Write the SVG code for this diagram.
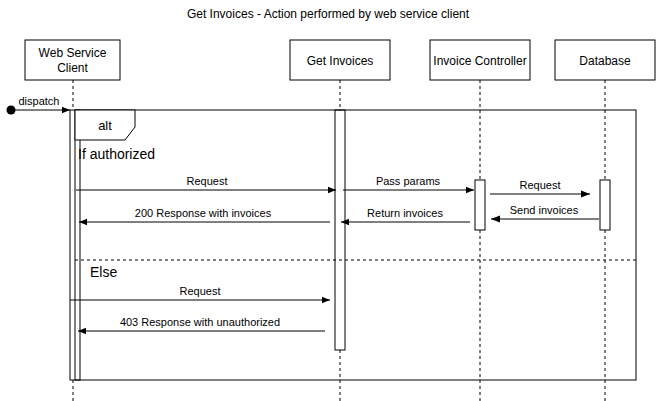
<svg xmlns="http://www.w3.org/2000/svg" width="656" height="401" viewBox="0 0 656 401">
<defs>
<style>
text{font-family:"Liberation Sans",Arial,Helvetica,sans-serif;fill:#000}
.box{fill:#fff;stroke:#000;stroke-width:1}
.t12{font-size:12px}
.t11{font-size:11px}
.t13{font-size:13px}
.t14{font-size:14px}
.life{stroke:#000;stroke-width:1;stroke-dasharray:3 3;fill:none}
.msg{stroke:#000;stroke-width:1;fill:none}
.grey{stroke:#808080;stroke-width:2;fill:none}
</style>
<marker id="ah" viewBox="0 0 10 10" refX="10" refY="5" markerUnits="userSpaceOnUse" markerWidth="8" markerHeight="8" orient="auto">
<path d="M0,1 L10,5 L0,9 Z" fill="#000"/>
</marker>
<marker id="ahg" viewBox="0 0 10 10" refX="10" refY="5" markerUnits="userSpaceOnUse" markerWidth="9" markerHeight="9" orient="auto">
<path d="M0,1 L10,5 L0,9 Z" fill="#000"/>
</marker>
</defs>
<rect width="656" height="401" fill="#fff"/>
<text class="t12" x="328" y="18" text-anchor="middle">Get Invoices - Action performed by web service client</text>

<g id="lifelines">
<line class="life" x1="73" y1="80" x2="73" y2="401"/>
<line class="life" x1="340" y1="80" x2="340" y2="401"/>
<line class="life" x1="480" y1="80" x2="480" y2="401"/>
<line class="life" x1="605" y1="80" x2="605" y2="401"/>
</g>

<g id="web-service-client">
<rect class="box" x="25" y="40" width="95" height="40"/>
<text class="t12" x="72.5" y="57" text-anchor="middle">Web Service</text>
<text class="t12" x="72.5" y="72" text-anchor="middle">Client</text>
<rect class="box" x="70" y="110" width="10" height="270"/>
</g>
<g id="get-invoices">
<rect class="box" x="290" y="40" width="100" height="40"/>
<text class="t12" x="340" y="65" text-anchor="middle">Get Invoices</text>
<rect class="box" x="335" y="110" width="10" height="240"/>
</g>
<g id="invoice-controller">
<rect class="box" x="430" y="40" width="100" height="40"/>
<text class="t12" x="480" y="65" text-anchor="middle">Invoice Controller</text>
<rect class="box" x="475" y="180" width="10" height="50"/>
</g>
<g id="database">
<rect class="box" x="555" y="40" width="100" height="40"/>
<text class="t12" x="605" y="65" text-anchor="middle">Database</text>
<rect class="box" x="600" y="180" width="10" height="50"/>
</g>

<g id="alt-frame">
<rect x="75" y="110" width="561" height="270" fill="none" stroke="#000" stroke-width="1"/>
<path d="M75,110 H135 V127 L125,140 H75 Z" fill="#fff" stroke="#000" stroke-width="1"/>
<text class="t13" x="105" y="130" text-anchor="middle">alt</text>
<text class="t14" x="78" y="159">If authorized</text>
<line x1="75" y1="260" x2="636" y2="260" stroke="#000" stroke-width="1" stroke-dasharray="3 3"/>
<text class="t14" x="90" y="277">Else</text>
</g>

<g id="connectors">
<circle cx="11" cy="110" r="4.5" fill="#000"/>
<line class="msg" x1="11" y1="110" x2="70" y2="110" marker-end="url(#ah)"/>
<text class="t11" x="39" y="105" text-anchor="middle">dispatch</text>

<line class="msg" x1="76" y1="190" x2="336" y2="190" marker-end="url(#ah)"/>
<text class="t11" x="207" y="185" text-anchor="middle">Request</text>

<line class="msg" x1="330" y1="222" x2="79" y2="222" marker-end="url(#ah)"/>
<text class="t11" x="203" y="217" text-anchor="middle">200 Response with invoices</text>

<line class="msg" x1="343" y1="190" x2="474" y2="190" marker-end="url(#ah)"/>
<text class="t11" x="408" y="185" text-anchor="middle">Pass params</text>

<line class="msg" x1="470" y1="222" x2="341" y2="222" marker-end="url(#ah)"/>
<text class="t11" x="405" y="217" text-anchor="middle">Return invoices</text>

<line class="grey" x1="490" y1="194" x2="590" y2="194" marker-end="url(#ahg)"/>
<text class="t11" x="540" y="189" text-anchor="middle">Request</text>

<line class="grey" x1="600" y1="219" x2="491" y2="219" marker-end="url(#ahg)"/>
<text class="t11" x="544" y="214" text-anchor="middle">Send invoices</text>

<line class="msg" x1="70" y1="300" x2="330" y2="300" marker-end="url(#ah)"/>
<text class="t11" x="200" y="295" text-anchor="middle">Request</text>

<line class="msg" x1="325" y1="331" x2="78" y2="331" marker-end="url(#ah)"/>
<text class="t11" x="200" y="326" text-anchor="middle">403 Response with unauthorized</text>
</g>
</svg>
